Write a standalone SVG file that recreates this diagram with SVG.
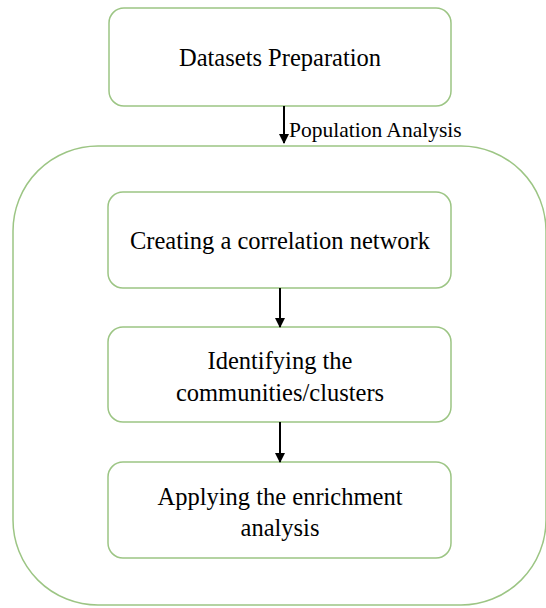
<svg xmlns="http://www.w3.org/2000/svg" width="546" height="608" viewBox="0 0 546 608">
<defs>
<style>
.box{fill:#fff;stroke:#9cc584;stroke-width:1.5}
.t{font-family:"Liberation Serif","Times New Roman",serif;font-size:24.5px;fill:#000;text-anchor:middle}
.lbl{font-family:"Liberation Serif","Times New Roman",serif;font-size:21.5px;fill:#000}
.c{stroke:#000;stroke-width:2;fill:none}
</style>
<marker id="ah" viewBox="0 0 10 10" refX="9" refY="5" markerWidth="5" markerHeight="5" orient="auto">
<path d="M0,0 L10,5 L0,10 z" fill="#000"/>
</marker>
</defs>
<rect width="546" height="608" fill="#fff"/>
<g id="outer"><rect class="box" x="13" y="146" width="533" height="459" rx="85"/></g>
<g id="datasets"><rect class="box" x="109" y="8" width="342" height="98" rx="15"/><text class="t" x="280" y="66">Datasets Preparation</text></g>
<g id="creating"><rect class="box" x="108" y="192" width="343" height="96" rx="15"/><text class="t" x="280" y="249">Creating a correlation network</text></g>
<g id="identifying"><rect class="box" x="108" y="327" width="343" height="95" rx="15"/><text class="t" x="280" y="369">Identifying the</text><text class="t" x="280" y="401">communities/clusters</text></g>
<g id="applying"><rect class="box" x="108" y="462" width="343" height="96" rx="15"/><text class="t" x="280" y="505">Applying the enrichment</text><text class="t" x="280" y="536">analysis</text></g>
<g id="connectors">
<line class="c" x1="284" y1="106" x2="284" y2="143" marker-end="url(#ah)"/>
<text class="lbl" x="289" y="137">Population Analysis</text>
<line class="c" x1="280" y1="288" x2="280" y2="327" marker-end="url(#ah)"/>
<line class="c" x1="280" y1="422" x2="280" y2="462" marker-end="url(#ah)"/>
</g>
</svg>
